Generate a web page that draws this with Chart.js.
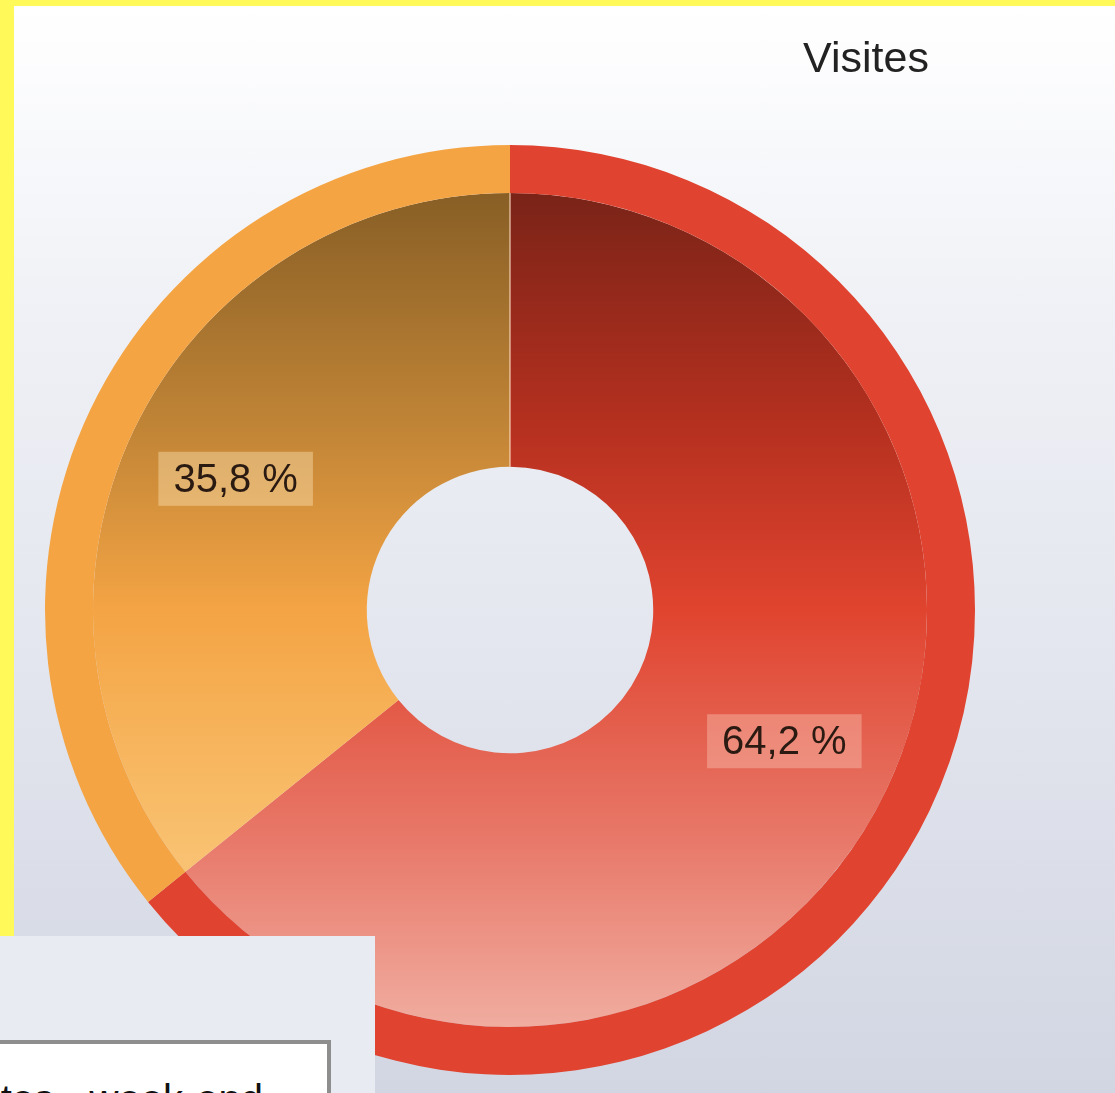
<!DOCTYPE html>
<html>
<head>
<meta charset="utf-8">
<script src="https://cdn.jsdelivr.net/npm/chart.js@4.4.1/dist/chart.umd.min.js"></script>
<style>
  html, body { margin: 0; padding: 0; }
  body { width: 1115px; height: 1093px; background: #fff95a; overflow: hidden; position: relative; font-family: "Liberation Sans", Arial, sans-serif; }
  #panel { position: absolute; left: 14px; top: 6px; width: 1101px; height: 1087px;
    background: linear-gradient(to bottom, #ffffff 0%, #eef0f5 30%, #e3e6ee 60%, #d2d6e2 100%); }
  #title { position: absolute; left: 792px; top: 33px; width: 148px; text-align: center; font-size: 43px; color: #222; }
  #legendWrap { position: absolute; left: 0; top: 936px; width: 375px; height: 157px; background: #e9ebf2; overflow: hidden; }
  #legendBox { position: absolute; left: -10px; top: 104px; width: 333px; height: 80px; background: #fff; border: 4px solid #8e8e8e; overflow: hidden; }
  #legendText { position: absolute; right: 64px; top: 33px; white-space: nowrap; font-size: 40px; color: #111; }
</style>
</head>
<body>
<div id="panel"><canvas id="c" width="1101" height="1087"></canvas></div>
<div id="title">Visites</div>
<div id="legendWrap"><div id="legendBox"><span id="legendText">Visites - week-end</span></div></div>
<script>
'use strict';

// données
const categories = ['Semaine', 'Week-end'];
const visitShares = [64.2, 35.8];

function fmtPct(v) { return v.toFixed(1).replace('.', ',') + ' %'; }

// dégradé vertical des secteurs intérieurs
function innerGradient(ctx, stops) {
  const area = ctx.chart.chartArea;
  if (!area) return stops[Math.floor(stops.length / 2)][1];
  const g = ctx.chart.ctx.createLinearGradient(0, area.top, 0, area.bottom);
  stops.forEach(function(s) { g.addColorStop(s[0], s[1]); });
  return g;
}

const redStops = [[0, '#6a1a10'], [0.06, '#7c2418'], [0.3, '#b5301f'], [0.5, '#e0442f'], [0.75, '#e8796a'], [0.95, '#f0ada0'], [1, '#f2b5a8']];
const orangeStops = [[0, '#7e561f'], [0.06, '#8a6026'], [0.3, '#c08436'], [0.5, '#f4a444'], [0.7, '#f8bb66'], [0.85, '#f9c87e'], [1, '#fad296']];

const labelPlugin = {
  id: 'pctLabels',
  afterDatasetsDraw: function(chart) {
    const ctx = chart.ctx;
    const outer = chart.getDatasetMeta(0).data;
    const inner = chart.getDatasetMeta(1).data;
    ctx.save();
    // fine ligne claire à la jonction du haut
    const a0 = inner[0];
    ctx.strokeStyle = 'rgba(255,225,200,0.7)';
    ctx.lineWidth = 1.5;
    ctx.beginPath();
    ctx.moveTo(a0.x + Math.cos(a0.startAngle) * a0.innerRadius, a0.y + Math.sin(a0.startAngle) * a0.innerRadius);
    ctx.lineTo(a0.x + Math.cos(a0.startAngle) * a0.outerRadius, a0.y + Math.sin(a0.startAngle) * a0.outerRadius);
    ctx.stroke();

    ctx.font = '40px "Liberation Sans", Arial, sans-serif';
    ctx.textAlign = 'center';
    ctx.textBaseline = 'middle';
    inner.forEach(function(arc, i) {
      const mid = (arc.startAngle + arc.endAngle) / 2;
      const r = (arc.innerRadius + outer[i].outerRadius) / 2;
      const x = arc.x + Math.cos(mid) * r;
      const y = arc.y + Math.sin(mid) * r;
      const txt = fmtPct(visitShares[i]);
      const w = ctx.measureText(txt).width + 30;
      ctx.fillStyle = i === 0 ? 'rgba(255,215,200,0.35)' : 'rgba(255,235,190,0.4)';
      ctx.fillRect(x - w / 2, y - 27, w, 54);
      ctx.fillStyle = '#2a1a12';
      ctx.fillText(txt, x, y + 2);
    });
    ctx.restore();
  }
};

new Chart(document.getElementById('c'), {
  type: 'doughnut',
  data: {
    labels: categories,
    datasets: [
      { data: visitShares, backgroundColor: ['#e0432f', '#f4a443'], borderWidth: 0, weight: 48 },
      {
        data: visitShares,
        backgroundColor: function(ctx) { return innerGradient(ctx, ctx.dataIndex === 0 ? redStops : orangeStops); },
        borderWidth: 0,
        weight: 274
      }
    ]
  },
  options: {
    responsive: false,
    animation: false,
    cutout: '30.8%',
    layout: { padding: { top: 139, bottom: 18, left: 0, right: 109 } },
    plugins: {
      legend: { display: false },
      tooltip: { enabled: false },
      title: { display: false }
    }
  },
  plugins: [labelPlugin]
});
</script>
</body>
</html>
